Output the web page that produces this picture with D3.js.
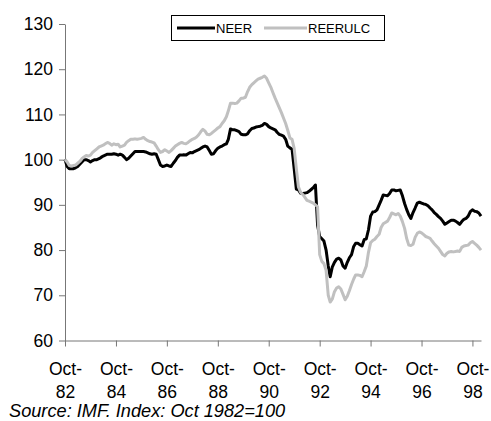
<!DOCTYPE html>
<html>
<head>
<meta charset="utf-8">
<script src="https://d3js.org/d3.v7.min.js"></script>
<style>
  body { margin: 0; background: #fff; }
  svg { display: block; font-family: "Liberation Sans", Arial, sans-serif; }
</style>
</head>
<body>
<div id="chart"></div>
<script>
// setting up constants
const FRAME_WIDTH = 491;
const FRAME_HEIGHT = 421;
const PLOT = {left: 65, right: 481, top: 24, bottom: 340.5};

// monthly index values, Oct 1982 .. Feb 1999 (Oct 1982 = 100)
const NEER = [
  100, 98.5, 98, 98, 98, 98.2, 98.5, 99, 99.5, 100, 100, 99.8,
  99.5, 99.8, 100, 100, 100.2, 100.5, 100.8, 101, 101.2, 101.2, 101.2, 101.3,
  101.2, 101, 101.2, 101, 100.5, 100, 100.3, 100.8, 101.3, 101.8, 101.8, 101.8,
  101.8, 101.8, 101.7, 101.5, 101.3, 101.2, 101.3, 101.2, 100, 98.8, 98.5, 98.6,
  98.8, 98.6, 98.5, 99.2, 99.8, 100.5, 101, 101, 101.1, 101, 101.3, 101.6,
  101.5, 101.8, 102, 102.2, 102.5, 102.8, 103, 102.8, 102, 101.2, 101.3, 102,
  102.5, 102.8, 103, 103.3, 103.5, 104.5, 106.8, 106.6, 106.6, 106.4, 106.2, 105.6,
  105.5, 105.5, 105.7, 106.4, 106.9, 107, 107.2, 107.3, 107.4, 107.6, 108, 107.8,
  107.3, 107, 106.8, 106.6, 106, 105.6, 105.4, 105.2, 104.5, 103, 102.6, 102.3,
  98, 93.5, 93.3, 92.6, 92.5, 92.6, 92.7, 93, 93.4, 93.8, 94.4, 85.5,
  83, 82.5, 82, 80, 76.5, 74.1, 76.3, 77.3, 78, 78.2, 77.8, 76.5,
  76, 77.3, 78.3, 79, 80.8, 81.5, 81.5, 81.2, 80.9, 82.3, 82.5, 84.5,
  87.5, 88.4, 88.5, 88.9, 90, 91, 92.2, 92.1, 92, 92.5, 93.3, 93.3,
  93.1, 93.2, 93.3, 92, 90.3, 89, 87.8, 87, 88.3, 89.3, 90.4, 90.6,
  90.4, 90.2, 90.1, 89.8, 89.3, 88.9, 88.3, 87.9, 87.4, 87, 86.4, 85.7,
  86, 86.3, 86.6, 86.6, 86.4, 86.1, 85.7, 86.3, 86.8, 87, 87.5, 88.5,
  88.9, 88.6, 88.5, 88.2, 87.5
];

const REERULC = [
  100, 99.5, 98.7, 98.6, 98.7, 98.8, 99.2, 99.6, 100.2, 100.6, 100.9, 100.8,
  101, 101.6, 102, 102.4, 102.8, 103, 103.2, 103.5, 103.8, 103.6, 103.2, 103.5,
  103.3, 103.4, 102.8, 103, 103.2, 103.8, 104.2, 104.5, 104.5, 104.6, 104.5, 104.6,
  104.7, 104.9, 104.5, 104.2, 104, 103.9, 103.7, 103, 102.2, 101.6, 101.8, 102.2,
  101.9, 101.6, 102, 102.5, 103, 103.3, 103.6, 103.8, 103.6, 103.5, 103.8, 104.2,
  104.5, 104.7, 105, 105.5, 106.2, 106.7, 106.3, 105.6, 105.5, 105.8, 106.2, 106.6,
  107, 107.3, 108, 108.6, 109.5, 110.8, 112.5, 112.5, 112.4, 112.5, 113, 113.6,
  113.6, 113.8, 115, 116, 116.6, 117, 117.4, 117.8, 118, 118.2, 118.5, 118,
  117, 116, 114.8, 113.6, 112.5, 111.5, 110.4, 109.2, 108, 106.5, 104.8, 104.5,
  102.5, 98, 94, 92.8, 92.3, 91.7, 91, 90.8, 90.6, 90.4, 90, 89.6,
  79, 77.5, 77, 75.5, 70, 68.5, 69.2, 70.8, 71.6, 71.9, 71.4, 70.2,
  69, 69.8, 71, 72.4, 73.6, 74.5, 74.5, 74.4, 74.1, 75.2, 76.5, 79.5,
  81.6, 82.1, 82.4, 83, 83.5, 85, 85.8, 86.1, 86.4, 87.2, 88.2, 88,
  87.8, 88.1, 87.5, 86.3, 84.8, 82.6, 81.1, 81, 81.3, 82.8, 83.7, 84,
  83.8, 83.4, 83, 82.8, 82.6, 82, 81.4, 80.9, 80.4, 79.7, 79, 78.7,
  79.3, 79.6, 79.7, 79.6, 79.7, 79.8, 79.7, 80.6, 80.9, 81, 81.1, 81.6,
  81.9, 81.5, 81.1, 80.6, 80
];

// tick labels
const Y_TICKS = [60, 70, 80, 90, 100, 110, 120, 130];
const X_TICK_YEARS = [1982, 1984, 1986, 1988, 1990, 1992, 1994, 1996, 1998];
const SERIES_NAMES = ["NEER", "REERULC"];
const SOURCE_TEXT = "Source: IMF. Index: Oct 1982=100";

// one date per monthly value
const MONTHS = d3.timeMonth.range(new Date(1982, 9, 1), new Date(1999, 2, 1));

const FRAME = d3.select("#chart")
                .append("svg")
                .attr("width", FRAME_WIDTH)
                .attr("height", FRAME_HEIGHT);

// scales
const xScale = d3.scaleTime()
  .domain([MONTHS[0], MONTHS[MONTHS.length - 1]])
  .range([PLOT.left, PLOT.right]);

const yScale = d3.scaleLinear()
  .domain([60, 130])
  .range([PLOT.bottom, PLOT.top]);

// y axis
const yAxis = FRAME.append("g")
  .attr("transform", "translate(" + PLOT.left + ",0)")
  .call(d3.axisLeft(yScale).tickValues(Y_TICKS).tickSize(6).tickSizeOuter(0).tickPadding(6));
yAxis.selectAll("text")
  .attr("font-size", 17.5)
  .attr("fill", "#000");

// x axis, labels on two lines
const xAxis = FRAME.append("g")
  .attr("transform", "translate(0," + PLOT.bottom + ")")
  .call(d3.axisBottom(xScale)
    .tickValues(X_TICK_YEARS.map((yr) => new Date(yr, 9, 1)))
    .tickSize(6).tickSizeOuter(0).tickFormat(""));
xAxis.selectAll(".tick text").remove();
xAxis.selectAll(".tick")
  .append("text")
  .attr("font-size", 17.5)
  .attr("fill", "#000")
  .attr("text-anchor", "middle")
  .each(function(d) {
    const t = d3.select(this);
    t.append("tspan").attr("x", 0).attr("y", 34).text("Oct-");
    t.append("tspan").attr("x", 0).attr("y", 57).text(d3.timeFormat("%y")(d));
  });

// axis colour
FRAME.selectAll(".domain, .tick line")
  .attr("stroke", "#777")
  .attr("stroke-width", 1);

// lines
const lineGen = (vals) => d3.line()
  .x((d, i) => xScale(MONTHS[i]))
  .y((d) => yScale(d))(vals);

FRAME.append("path")
  .attr("d", lineGen(NEER))
  .attr("fill", "none")
  .attr("stroke", "#000")
  .attr("stroke-width", 3)
  .attr("stroke-linejoin", "round");

FRAME.append("path")
  .attr("d", lineGen(REERULC))
  .attr("fill", "none")
  .attr("stroke", "#c0c0c0")
  .attr("stroke-width", 3)
  .attr("stroke-linejoin", "round");

// legend
const legend = FRAME.append("g");
legend.append("rect")
  .attr("x", 171.5).attr("y", 15.5)
  .attr("width", 213).attr("height", 25)
  .attr("fill", "#fff")
  .attr("stroke", "#000");

const LEGEND_POS = [{x1: 177, x2: 215, color: "#000"}, {x1: 264, x2: 307, color: "#c0c0c0"}];
SERIES_NAMES.forEach((name, i) => {
  legend.append("line")
    .attr("x1", LEGEND_POS[i].x1).attr("x2", LEGEND_POS[i].x2)
    .attr("y1", 28).attr("y2", 28)
    .attr("stroke", LEGEND_POS[i].color)
    .attr("stroke-width", 3);
  legend.append("text")
    .attr("x", LEGEND_POS[i].x2 + 1)
    .attr("y", 33)
    .attr("font-size", 13)
    .text(name);
});

// source note
FRAME.append("text")
  .attr("x", 9)
  .attr("y", 417)
  .attr("font-size", 18.2)
  .attr("font-style", "italic")
  .text(SOURCE_TEXT);
</script>
</body>
</html>
